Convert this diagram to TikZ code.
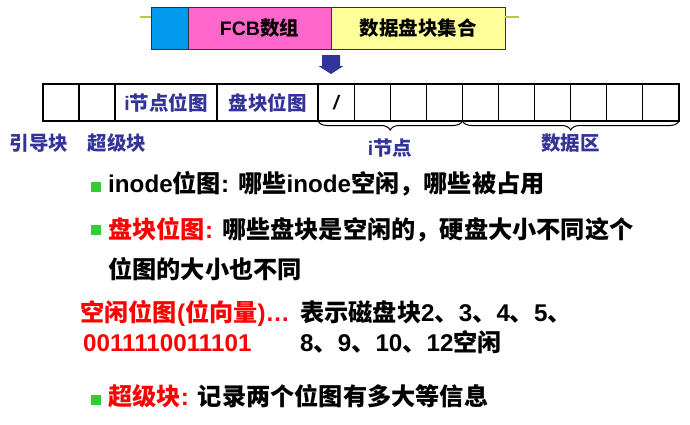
\documentclass[tikz,border=0pt]{standalone}
\usepackage{fontspec}
\setmainfont{Liberation Sans}
\newfontfamily\cjk{Noto Sans CJK SC}
\usepackage{tikz}
\usetikzlibrary{positioning, decorations.pathreplacing}

\definecolor{barblue}{RGB}{0,153,238}
\definecolor{barpink}{RGB}{255,102,204}
\definecolor{baryellow}{RGB}{255,255,153}
\definecolor{ruleolive}{RGB}{196,196,60}
\definecolor{navy}{RGB}{51,51,153}
\definecolor{bulletgreen}{RGB}{51,204,51}
\definecolor{alertred}{RGB}{255,0,0}

\newcommand{\zh}[1]{{\cjk #1}}

\begin{document}
\begin{tikzpicture}[x=1pt, y=1pt, font=\bfseries]
      \tikzset{
        seg/.style={draw=black!80, line width=0.8pt, minimum height=42pt, inner sep=0pt, outer sep=0pt,
                    font=\bfseries\fontsize{19.5}{21}\selectfont},
        cell/.style={draw, line width=1.1pt, minimum width=36.1pt, minimum height=37pt, inner sep=0pt,
                     outer sep=0pt, text=navy, font=\bfseries\fontsize{19.5}{21}\selectfont},
        lbl/.style={text=navy, inner sep=0pt, font=\bfseries\fontsize{19.5}{21}\selectfont},
        txt/.style={anchor=base west, inner sep=0pt, font=\bfseries\fontsize{24.2}{28}\selectfont},
        dot/.style={fill=bulletgreen, minimum size=10pt, inner sep=0pt},
        brace/.style={decorate, decoration={brace, mirror, amplitude=9pt}, line width=1pt}
      }
      \useasboundingbox (0,0) rectangle (690,-424);

      % FCB bar
      \node[seg, fill=barblue, minimum width=37pt] (tag) at (169.5,-28) {};
      \node[seg, fill=barpink, minimum width=143pt] (fcb) [right=0pt of tag] {FCB\zh{数组}};
      \node[seg, fill=baryellow, minimum width=174pt] (blocks) [right=0pt of fcb] {\zh{数据盘块集合}};
      \coordinate (rl) at (140,-17);
      \coordinate (rr) at (519,-17);
      \draw[ruleolive, line width=2pt] (rl) -- (rl -| tag.west);
      \draw[ruleolive, line width=2pt] (blocks.east |- rr) -- (rr);

      % down arrow
      \coordinate (down) at (331,-55);
      \fill[navy] (down) ++(-9,0) -- ++(18,0) -- ++(0,-11) -- ++(3.5,0) -- (331,-74)
                  -- (318.5,-66) -- ++(3.5,0) -- cycle;

      % Disk blocks
      \node[cell, minimum width=36pt]              (c1)  at (61,-102.5) {};
      \node[cell, minimum width=36pt]              (c2)  [right=0pt of c1] {};
      \node[cell, minimum width=102pt]             (c3)  [right=0pt of c2] {i\zh{节点位图}};
      \node[cell, minimum width=101pt]             (c4)  [right=0pt of c3] {\zh{盘块位图}};
      \node[cell, text=black]                      (c5)  [right=0pt of c4] {\itshape /};
      \node[cell]                                  (c6)  [right=0pt of c5] {};
      \node[cell]                                  (c7)  [right=0pt of c6] {};
      \node[cell]                                  (c8)  [right=0pt of c7] {};
      \node[cell]                                  (c9)  [right=0pt of c8] {};
      \node[cell]                                  (c10) [right=0pt of c9] {};
      \node[cell]                                  (c11) [right=0pt of c10] {};
      \node[cell]                                  (c12) [right=0pt of c11] {};
      \node[cell]                                  (c13) [right=0pt of c12] {};
      \node[cell]                                  (c14) [right=0pt of c13] {};

      \node[lbl] (boot)  at (39,-143)  {\zh{引导块}};
      \node[lbl] (super) at (117,-143) {\zh{超级块}};
      \draw[brace] (c5.south west) -- node[lbl, midway, yshift=-27pt] (inodes) {i\zh{节点}} (c8.south east);
      \draw[brace] (c9.south west) -- node[lbl, midway, yshift=-22pt] (data) {\zh{数据区}} (c14.south east);

      % Notes
      \node[dot] (b1) at (96,-187) {};
      \node[txt] (l1) at (108,-192) {inode\zh{位图}: \zh{哪些}inode\zh{空闲，哪些被占用}};
      \node[dot] (b2) at (96,-230) {};
      \node[txt] (l2) at (108,-238) {\textcolor{alertred}{\zh{盘块位图}:} \zh{哪些盘块是空闲的，硬盘大小不同这个}};
      \node[txt] (l3) at (108,-278) {\zh{位图的大小也不同}};
      \node[txt, text=alertred] (l4) at (80,-321) {\zh{空闲位图}(\zh{位向量})…};
      \node[txt] (l4b) at (300,-321) {\zh{表示磁盘块}2\zh{、}3\zh{、}4\zh{、}5\zh{、}};
      \node[txt, text=alertred] (l5) at (83,-351) {0011110011101};
      \node[txt] (l5b) at (300,-351) {8\zh{、}9\zh{、}10\zh{、}12\zh{空闲}};
      \node[dot] (b3) at (96,-400) {};
      \node[txt] (l6) at (108,-405) {\textcolor{alertred}{\zh{超级块}:} \zh{记录两个位图有多大等信息}};
    \end{tikzpicture}
\end{document}
